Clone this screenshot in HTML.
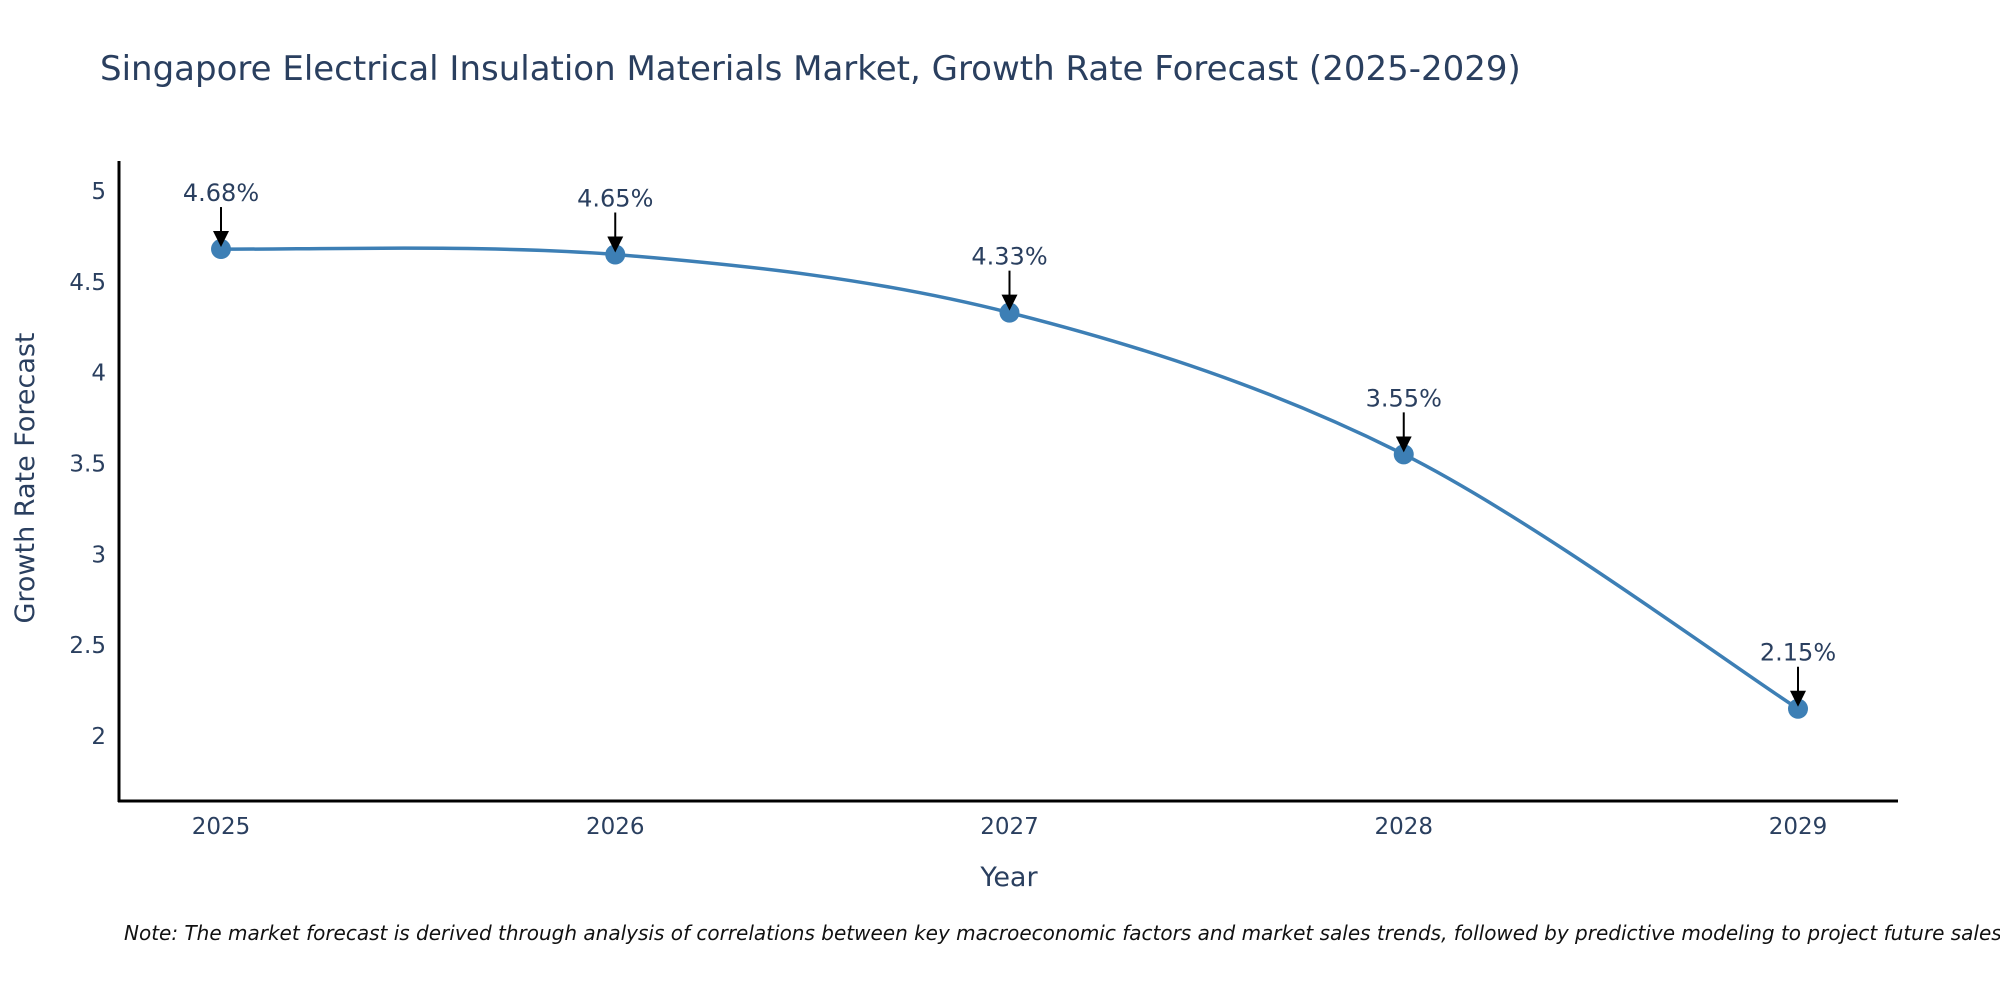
<!DOCTYPE html>
<html><head><meta charset="utf-8"><style>
body{margin:0;background:#fff;}
svg text{font-family:"DejaVu Sans","Liberation Sans",sans-serif;}
</style></head><body>
<svg width="2000" height="1000" xmlns="http://www.w3.org/2000/svg">
<text x="100" y="80" font-size="34" fill="#2a3f5f">Singapore Electrical Insulation Materials Market, Growth Rate Forecast (2025-2029)</text>
<g id="yticks"></g>
<g id="xticks"></g>
<line x1="119" y1="161" x2="119" y2="802" stroke="#000" stroke-width="3"/>
<line x1="118" y1="801" x2="1898" y2="801" stroke="#000" stroke-width="3"/>
<path id="line" fill="none" stroke="#3d7fb5" stroke-width="3.5"/>
<g id="marks"></g>
<text x="1009" y="886" font-size="27" fill="#2a3f5f" text-anchor="middle">Year</text>
<text transform="translate(34,478) rotate(-90)" font-size="27" fill="#2a3f5f" text-anchor="middle">Growth Rate Forecast</text>
<text x="124" y="940" font-size="20" font-style="italic" fill="#111">Note: The market forecast is derived through analysis of correlations between key macroeconomic factors and market sales trends, followed by predictive modeling to project future sales.</text>
<defs><marker id="ah" markerWidth="8" markerHeight="8" refX="6" refY="4" orient="auto" markerUnits="strokeWidth"><path d="M0,0 L8,4 L0,8 z" fill="#000"/></marker></defs>
</svg>
<script>
const years=[2025,2026,2027,2028,2029];
const values=[4.68,4.65,4.33,3.55,2.15];
const yTicks=[2,2.5,3,3.5,4,4.5,5];
const NS="http://www.w3.org/2000/svg";
function xs(i){return 221+i*394.25;}
function ys(v){return 736-(v-2)*181.7;}
function mk(t,a,p){const e=document.createElementNS(NS,t);for(const k in a)e.setAttribute(k,a[k]);p.appendChild(e);return e;}
const yt=document.getElementById('yticks'),xt=document.getElementById('xticks'),mg=document.getElementById('marks');
yTicks.forEach(v=>{const t=mk('text',{x:106,y:ys(v)+8,'font-size':23,fill:'#2a3f5f','text-anchor':'end'},yt);t.textContent=String(v);

});
years.forEach((y,i)=>{const t=mk('text',{x:xs(i),y:834,'font-size':23,fill:'#2a3f5f','text-anchor':'middle'},xt);t.textContent=String(y);

});
const P=values.map((v,i)=>[xs(i),ys(v)]);
let d=`M${P[0][0]},${P[0][1]}`;
for(let i=0;i<P.length-1;i++){const p0=P[Math.max(0,i-1)],p1=P[i],p2=P[i+1],p3=P[Math.min(P.length-1,i+2)];
const c1=[p1[0]+(p2[0]-p0[0])/6,p1[1]+(p2[1]-p0[1])/6],c2=[p2[0]-(p3[0]-p1[0])/6,p2[1]-(p3[1]-p1[1])/6];
d+=` C${c1[0]},${c1[1]} ${c2[0]},${c2[1]} ${p2[0]},${p2[1]}`;}
document.getElementById('line').setAttribute('d',d);
P.forEach((p,i)=>{const c=mk('circle',{cx:p[0],cy:p[1],r:10,fill:'#3d7fb5'},mg);


const a=mk('line',{x1:p[0],y1:p[1]-42,x2:p[0],y2:p[1]-6,stroke:'#000','stroke-width':2,'marker-end':'url(#ah)'},mg);


const t=mk('text',{x:p[0],y:p[1]-48,'font-size':24,fill:'#2a3f5f','text-anchor':'middle'},mg);t.textContent=values[i].toFixed(2)+'%';

});
</script>
</body></html>
